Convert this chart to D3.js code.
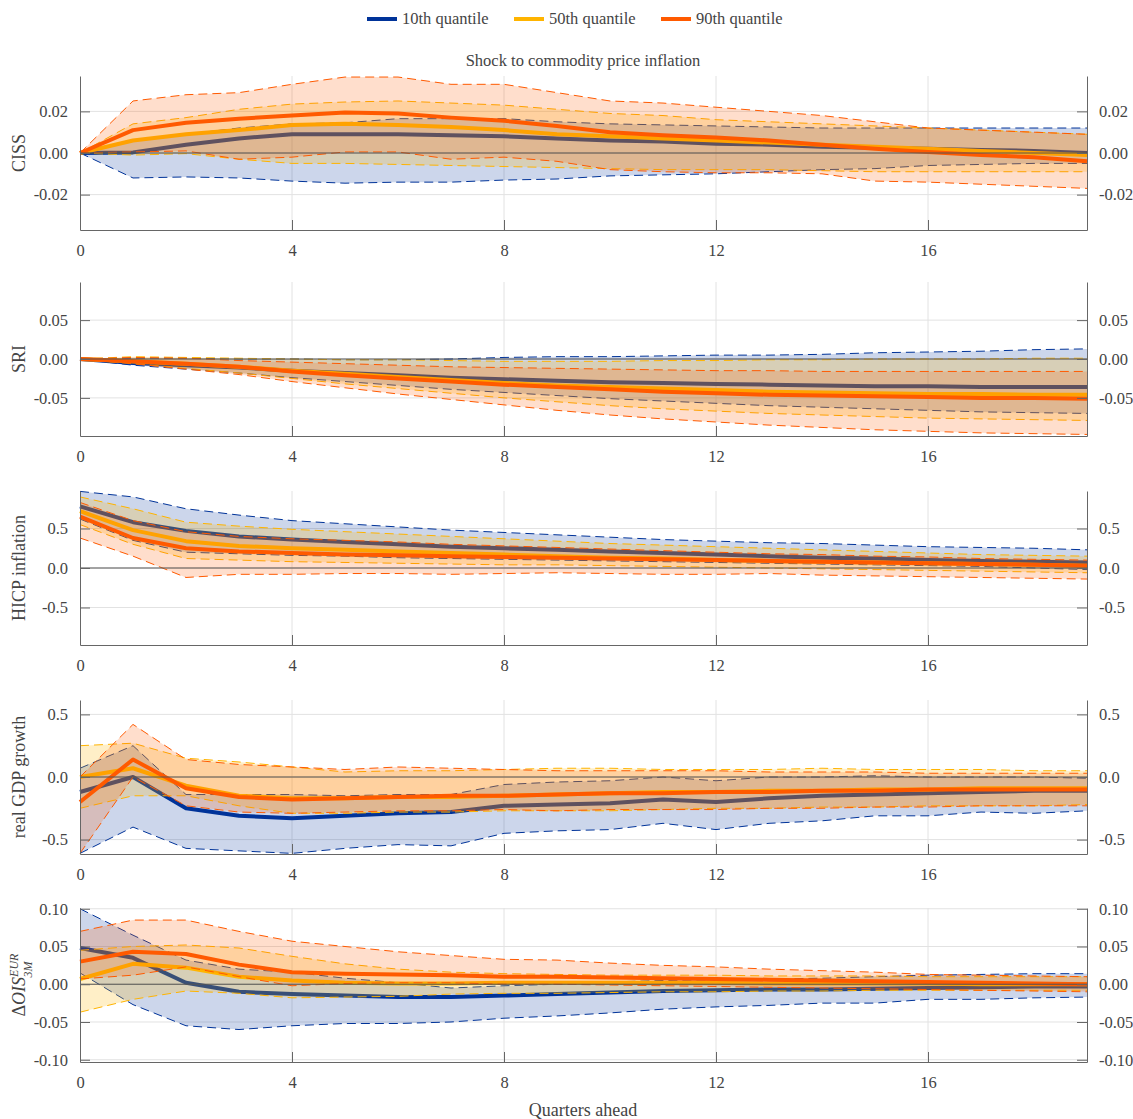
<!DOCTYPE html>
<html><head><meta charset="utf-8">
<script src="https://cdn.jsdelivr.net/npm/d3@7"></script>
<style>
body{margin:0;background:#fff;}
text{font-family:"Liberation Serif","DejaVu Serif",serif;fill:#444;}
</style></head><body>
<svg id="chart" width="1133" height="1119"></svg>
<script>
// horizons 0..19
const horizons = d3.range(20);
const quantiles = ["10th quantile", "50th quantile", "90th quantile"];
const colors = ["#003399", "#ffb400", "#ff5a00"];

// CISS
const cissQ10 = [0,0.0003,0.004,0.007,0.009,0.009,0.009,0.0085,0.008,0.007,0.006,0.0055,0.0045,0.004,0.003,0.0025,0.002,0.0015,0.001,0.0];
const cissQ10lo = [0,-0.012,-0.0115,-0.012,-0.0135,-0.0145,-0.014,-0.014,-0.013,-0.0125,-0.011,-0.0105,-0.01,-0.009,-0.008,-0.0075,-0.006,-0.0055,-0.005,-0.005];
const cissQ10hi = [0,0.006,0.009,0.012,0.014,0.0145,0.0165,0.0165,0.0165,0.015,0.014,0.0135,0.013,0.0125,0.012,0.012,0.012,0.012,0.012,0.012];
const cissQ50 = [0,0.006,0.009,0.011,0.0135,0.014,0.0135,0.0125,0.011,0.009,0.008,0.007,0.006,0.005,0.004,0.003,0.002,0.001,0.0,-0.001];
const cissQ50lo = [0,-0.001,-0.0003,-0.003,-0.005,-0.005,-0.0055,-0.006,-0.0065,-0.007,-0.0075,-0.008,-0.008,-0.008,-0.0085,-0.009,-0.009,-0.009,-0.009,-0.009];
const cissQ50hi = [0,0.014,0.017,0.021,0.0235,0.0245,0.025,0.024,0.023,0.021,0.019,0.018,0.016,0.015,0.014,0.013,0.012,0.011,0.01,0.009];
const cissQ90 = [0,0.011,0.0145,0.0165,0.018,0.0195,0.019,0.017,0.0155,0.013,0.01,0.0085,0.0075,0.006,0.004,0.002,0.0005,-0.001,-0.002,-0.004];
const cissQ90lo = [0,0.0005,0.001,-0.003,-0.002,0.0005,0.0005,-0.003,-0.002,-0.004,-0.008,-0.009,-0.0095,-0.0095,-0.01,-0.0135,-0.014,-0.015,-0.016,-0.017];
const cissQ90hi = [0,0.025,0.028,0.029,0.033,0.0365,0.0365,0.033,0.033,0.029,0.025,0.024,0.022,0.02,0.018,0.015,0.012,0.011,0.01,0.009];

// SRI
const sriQ10 = [0,-0.005,-0.008,-0.011,-0.015,-0.018,-0.021,-0.024,-0.026,-0.028,-0.030,-0.031,-0.032,-0.033,-0.034,-0.035,-0.035,-0.036,-0.036,-0.036];
const sriQ10lo = [0,-0.008,-0.013,-0.018,-0.024,-0.029,-0.034,-0.039,-0.043,-0.047,-0.051,-0.054,-0.057,-0.06,-0.062,-0.064,-0.066,-0.068,-0.069,-0.07];
const sriQ10hi = [0,0.001,0.001,0.0,0.0,-0.001,-0.001,0.0,0.002,0.003,0.003,0.004,0.005,0.005,0.006,0.008,0.009,0.01,0.012,0.013];
const sriQ50 = [0,-0.003,-0.006,-0.01,-0.015,-0.019,-0.023,-0.027,-0.031,-0.034,-0.036,-0.038,-0.04,-0.042,-0.043,-0.044,-0.045,-0.045,-0.046,-0.046];
const sriQ50lo = [0,-0.006,-0.012,-0.018,-0.025,-0.032,-0.038,-0.044,-0.05,-0.055,-0.06,-0.064,-0.067,-0.07,-0.072,-0.074,-0.076,-0.077,-0.078,-0.079];
const sriQ50hi = [0,0.003,0.002,0.001,0.0,-0.001,-0.001,-0.002,-0.003,-0.003,-0.003,-0.002,-0.002,-0.001,-0.001,0,0,0,0.001,0.001];
const sriQ90 = [0,-0.003,-0.006,-0.01,-0.016,-0.021,-0.025,-0.029,-0.033,-0.036,-0.039,-0.042,-0.044,-0.046,-0.047,-0.048,-0.049,-0.05,-0.05,-0.051];
const sriQ90lo = [0,-0.006,-0.013,-0.02,-0.029,-0.037,-0.045,-0.052,-0.059,-0.066,-0.072,-0.077,-0.081,-0.085,-0.088,-0.091,-0.093,-0.095,-0.096,-0.097];
const sriQ90hi = [0,0.002,0.001,-0.002,-0.004,-0.006,-0.008,-0.01,-0.011,-0.012,-0.013,-0.014,-0.015,-0.015,-0.016,-0.016,-0.016,-0.016,-0.016,-0.016];

// HICP inflation
const hicpQ10 = [0.78,0.58,0.47,0.40,0.36,0.33,0.30,0.27,0.25,0.23,0.21,0.19,0.17,0.15,0.13,0.12,0.10,0.09,0.08,0.07];
const hicpQ10lo = [0.62,0.35,0.20,0.18,0.16,0.15,0.13,0.12,0.11,0.10,0.09,0.08,0.07,0.06,0.05,0.04,0.03,0.02,0.0,-0.02];
const hicpQ10hi = [0.97,0.90,0.75,0.67,0.60,0.56,0.52,0.48,0.45,0.42,0.39,0.36,0.34,0.32,0.31,0.29,0.27,0.26,0.25,0.23];
const hicpQ50 = [0.72,0.48,0.34,0.28,0.25,0.23,0.21,0.19,0.17,0.15,0.13,0.12,0.10,0.09,0.08,0.07,0.06,0.05,0.04,0.03];
const hicpQ50lo = [0.55,0.30,0.12,0.10,0.08,0.07,0.06,0.05,0.04,0.04,0.03,0.02,0.01,0.0,-0.01,-0.02,-0.03,-0.04,-0.05,-0.06];
const hicpQ50hi = [0.90,0.75,0.58,0.53,0.49,0.46,0.43,0.40,0.37,0.34,0.31,0.29,0.27,0.25,0.23,0.21,0.19,0.17,0.16,0.15];
const hicpQ90 = [0.65,0.38,0.25,0.21,0.19,0.17,0.16,0.15,0.14,0.13,0.12,0.11,0.10,0.09,0.08,0.07,0.06,0.05,0.04,0.03];
const hicpQ90lo = [0.38,0.15,-0.12,-0.08,-0.08,-0.07,-0.07,-0.08,-0.07,-0.06,-0.07,-0.08,-0.08,-0.07,-0.09,-0.10,-0.11,-0.12,-0.13,-0.14];
const hicpQ90hi = [0.83,0.60,0.46,0.40,0.37,0.35,0.33,0.30,0.28,0.26,0.24,0.22,0.20,0.18,0.17,0.15,0.14,0.12,0.11,0.10];

// real GDP growth
const gdpQ10 = [-0.12,0.0,-0.25,-0.31,-0.33,-0.31,-0.29,-0.28,-0.23,-0.22,-0.21,-0.18,-0.2,-0.17,-0.15,-0.14,-0.13,-0.12,-0.11,-0.11];
const gdpQ10lo = [-0.61,-0.4,-0.57,-0.59,-0.61,-0.57,-0.54,-0.55,-0.45,-0.43,-0.42,-0.37,-0.42,-0.37,-0.35,-0.31,-0.31,-0.28,-0.29,-0.27];
const gdpQ10hi = [0.07,0.25,-0.14,-0.14,-0.14,-0.15,-0.14,-0.14,-0.06,-0.04,-0.03,0.0,-0.03,0.0,0.0,0.01,0.0,0.0,0.0,-0.01];
const gdpQ50 = [0.0,0.07,-0.07,-0.15,-0.17,-0.17,-0.16,-0.16,-0.15,-0.14,-0.13,-0.12,-0.12,-0.11,-0.11,-0.1,-0.1,-0.09,-0.09,-0.09];
const gdpQ50lo = [-0.25,-0.15,-0.15,-0.23,-0.29,-0.29,-0.28,-0.28,-0.27,-0.27,-0.27,-0.26,-0.25,-0.25,-0.24,-0.24,-0.23,-0.23,-0.23,-0.22];
const gdpQ50hi = [0.25,0.27,0.15,0.12,0.08,0.04,0.05,0.05,0.06,0.07,0.07,0.06,0.06,0.06,0.07,0.06,0.06,0.06,0.05,0.05];
const gdpQ90 = [-0.2,0.14,-0.09,-0.16,-0.18,-0.17,-0.16,-0.15,-0.15,-0.14,-0.13,-0.13,-0.12,-0.12,-0.11,-0.11,-0.10,-0.10,-0.10,-0.10];
const gdpQ90lo = [-0.61,0.0,-0.23,-0.28,-0.29,-0.28,-0.27,-0.27,-0.26,-0.27,-0.26,-0.26,-0.26,-0.25,-0.25,-0.24,-0.24,-0.23,-0.23,-0.23];
const gdpQ90hi = [0.0,0.42,0.14,0.1,0.08,0.06,0.08,0.07,0.06,0.05,0.05,0.05,0.05,0.04,0.04,0.04,0.03,0.03,0.03,0.03];

// delta OIS 3M
const oisQ10 = [0.048,0.035,0.002,-0.01,-0.013,-0.015,-0.017,-0.017,-0.015,-0.013,-0.011,-0.009,-0.008,-0.007,-0.007,-0.006,-0.005,-0.004,-0.003,-0.003];
const oisQ10lo = [0.015,-0.027,-0.055,-0.06,-0.055,-0.052,-0.052,-0.05,-0.045,-0.042,-0.038,-0.033,-0.03,-0.028,-0.025,-0.025,-0.02,-0.02,-0.018,-0.017];
const oisQ10hi = [0.1,0.065,0.032,0.02,0.016,0.008,0.002,-0.005,-0.002,0.0,0.003,0.005,0.006,0.007,0.008,0.01,0.012,0.013,0.014,0.014];
const oisQ50 = [0.007,0.027,0.022,0.01,0.005,0.002,0.001,0.001,0.002,0.002,0.002,0.002,0.002,0.001,0.001,0.001,0.001,0.0,0.0,0.0];
const oisQ50lo = [-0.037,-0.02,-0.009,-0.012,-0.018,-0.017,-0.016,-0.013,-0.012,-0.012,-0.011,-0.01,-0.01,-0.009,-0.009,-0.008,-0.008,-0.008,-0.008,-0.008];
const oisQ50hi = [0.045,0.05,0.052,0.048,0.037,0.027,0.02,0.016,0.014,0.013,0.012,0.012,0.012,0.011,0.011,0.011,0.01,0.01,0.01,0.01];
const oisQ90 = [0.03,0.043,0.04,0.026,0.016,0.014,0.013,0.012,0.01,0.01,0.009,0.008,0.007,0.006,0.005,0.004,0.003,0.002,0.001,0.0];
const oisQ90lo = [0.007,0.012,0.023,0.01,-0.002,0.001,0.002,0.002,0.0,0.0,-0.001,-0.002,-0.003,-0.004,-0.005,-0.006,-0.007,-0.008,-0.009,-0.01];
const oisQ90hi = [0.07,0.085,0.085,0.07,0.057,0.05,0.043,0.038,0.033,0.032,0.028,0.025,0.023,0.02,0.018,0.016,0.013,0.012,0.011,0.01];

const xTicks = [0, 4, 8, 12, 16];

const panels = [
  {label: "CISS", domain: [-0.037, 0.037], ticks: [-0.02, 0, 0.02], fmt: ".2f", top: 76,
   series: [[cissQ10, cissQ10lo, cissQ10hi], [cissQ50, cissQ50lo, cissQ50hi], [cissQ90, cissQ90lo, cissQ90hi]]},
  {label: "SRI", domain: [-0.099, 0.099], ticks: [-0.05, 0, 0.05], fmt: ".2f", top: 282,
   series: [[sriQ10, sriQ10lo, sriQ10hi], [sriQ50, sriQ50lo, sriQ50hi], [sriQ90, sriQ90lo, sriQ90hi]]},
  {label: "HICP inflation", domain: [-0.975, 0.975], ticks: [-0.5, 0, 0.5], fmt: ".1f", top: 491,
   series: [[hicpQ10, hicpQ10lo, hicpQ10hi], [hicpQ50, hicpQ50lo, hicpQ50hi], [hicpQ90, hicpQ90lo, hicpQ90hi]]},
  {label: "real GDP growth", domain: [-0.615, 0.615], ticks: [-0.5, 0, 0.5], fmt: ".1f", top: 700,
   series: [[gdpQ10, gdpQ10lo, gdpQ10hi], [gdpQ50, gdpQ50lo, gdpQ50hi], [gdpQ90, gdpQ90lo, gdpQ90hi]]},
  {label: "OIS", domain: [-0.103, 0.101], ticks: [-0.1, -0.05, 0, 0.05, 0.1], fmt: ".2f", top: 908,
   series: [[oisQ10, oisQ10lo, oisQ10hi], [oisQ50, oisQ50lo, oisQ50hi], [oisQ90, oisQ90lo, oisQ90hi]]}
];

const svg = d3.select("#chart");
const left = 80, right = 1087, ph = 154;
const x = d3.scaleLinear().domain([0, 19]).range([left, right]);
const fmtMinus = f => v => d3.format(f)(v).replace("−", "-");

panels.forEach(p => {
  const y = d3.scaleLinear().domain(p.domain).range([p.top + ph, p.top]);
  const g = svg.append("g");
  // grid
  g.selectAll(".vg").data(xTicks.slice(1)).join("line")
    .attr("x1", d => x(d)).attr("x2", d => x(d)).attr("y1", p.top).attr("y2", p.top + ph)
    .attr("stroke", "#e2e2e2");
  g.selectAll(".hg").data(p.ticks).join("line")
    .attr("x1", left).attr("x2", right).attr("y1", d => y(d)).attr("y2", d => y(d))
    .attr("stroke", "#e2e2e2");

  p.series.forEach((s, i) => {
    const [mid, lo, hi] = s;
    const area = d3.area().x((d, j) => x(j)).y0((d, j) => y(lo[j])).y1((d, j) => y(hi[j]));
    g.append("path").datum(horizons).attr("d", area)
      .attr("fill", colors[i]).attr("fill-opacity", i === 1 ? 0.22 : 0.2);
    const line = arr => d3.line().x((d, j) => x(j)).y(d => y(d))(arr);
    [lo, hi].forEach(b => g.append("path").attr("d", line(b)).attr("fill", "none")
      .attr("stroke", colors[i]).attr("stroke-width", 1).attr("stroke-dasharray", "9,5"));
    g.append("path").attr("d", line(mid)).attr("fill", "none")
      .attr("stroke", colors[i]).attr("stroke-width", 4).attr("stroke-linejoin", "round");
  });

  // zero line
  g.append("line").attr("x1", left).attr("x2", right).attr("y1", y(0)).attr("y2", y(0))
    .attr("stroke", "#555").attr("stroke-width", 1);

  const styleAxis = a => {
    a.select(".domain").attr("stroke", "#666");
    a.selectAll(".tick line").attr("stroke", "#666");
    a.selectAll(".tick text").attr("fill", "#444").style("font-size", "16.5px")
      .style("font-family", "'Liberation Serif', serif");
  };
  g.append("g").attr("transform", `translate(${left},0)`)
    .call(d3.axisLeft(y).tickValues(p.ticks).tickFormat(fmtMinus(p.fmt)).tickSize(-10).tickSizeOuter(0).tickPadding(12))
    .call(styleAxis);
  g.append("g").attr("transform", `translate(${right},0)`)
    .call(d3.axisRight(y).tickValues(p.ticks).tickFormat(fmtMinus(p.fmt)).tickSize(-10).tickSizeOuter(0).tickPadding(12))
    .call(styleAxis);
  g.append("g").attr("transform", `translate(0,${p.top + ph})`)
    .call(d3.axisBottom(x).tickValues(xTicks).tickSize(-10).tickSizeOuter(0).tickPadding(14))
    .call(styleAxis);

  const lab = g.append("text").attr("transform", `translate(25,${p.top + ph / 2}) rotate(-90)`)
    .attr("text-anchor", "middle").style("font-size", "18px");
  if (p.label === "OIS") {
    lab.append("tspan").text("Δ");
    lab.append("tspan").style("font-style", "italic").text("OIS");
    lab.append("tspan").style("font-style", "italic").style("font-size", "12px").attr("dy", -7).text("EUR");
    lab.append("tspan").style("font-style", "italic").style("font-size", "12px").attr("dx", -24).attr("dy", 14).text("3M");
  } else {
    lab.text(p.label);
  }
});

svg.append("text").attr("x", 583).attr("y", 66).attr("text-anchor", "middle")
  .style("font-size", "16.5px").text("Shock to commodity price inflation");
svg.append("text").attr("x", 583).attr("y", 1116).attr("text-anchor", "middle")
  .style("font-size", "18px").text("Quarters ahead");

// legend
const leg = svg.append("g").attr("transform", "translate(367,19)");
quantiles.forEach((q, i) => {
  const lg = leg.append("g").attr("transform", `translate(${i * 147},0)`);
  lg.append("line").attr("x1", 0).attr("x2", 30).attr("stroke", colors[i]).attr("stroke-width", 4);
  lg.append("text").attr("x", 35).attr("y", 5).style("font-size", "16.5px").text(q);
});
</script></body></html>
